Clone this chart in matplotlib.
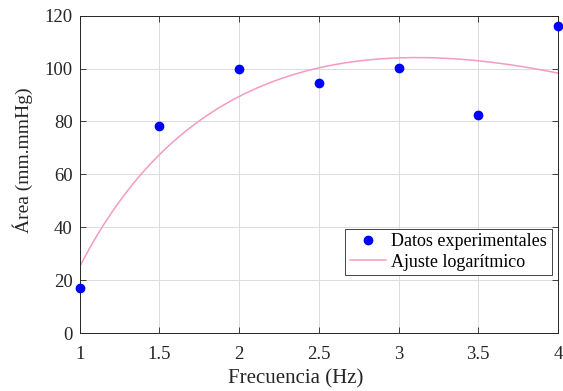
import numpy as np
import matplotlib
matplotlib.use("Agg")
import matplotlib.pyplot as plt

plt.rcParams['font.family'] = ['Liberation Serif', 'DejaVu Serif']
plt.rcParams['mathtext.fontset'] = 'stix'

freq = [1.0, 1.5, 2.0, 2.5, 3.0, 3.5, 4.0]
area = [17.0, 78.3, 100.0, 94.7, 100.4, 82.6, 116.2]

# fitted model: y = a + b*ln(x) + c*x (coefficients)
fit_a, fit_b, fit_c = 80.6, 172.9, -55.5

xticks = [1, 1.5, 2, 2.5, 3, 3.5, 4]
xticklabels = ['1', '1.5', '2', '2.5', '3', '3.5', '4']
yticks = [0, 20, 40, 60, 80, 100, 120]

fig = plt.figure(figsize=(5.63, 3.91), dpi=100)
ax = fig.add_axes([0.1416, 0.1483, 0.8494, 0.8115])

xf = np.linspace(1, 4, 300)
yf = fit_a + fit_b * np.log(xf) + fit_c * xf

ax.plot(freq, area, 'o', color='#0000ff', markersize=6, label='Datos experimentales', zorder=3,
        clip_on=False)
ax.plot(xf, yf, '-', color='#f59ac0', linewidth=1.1, label='Ajuste logarítmico', zorder=2)

ax.set_xlim(1, 4)
ax.set_ylim(0, 120)
ax.set_xticks(xticks)
ax.set_xticklabels(xticklabels)
ax.set_yticks(yticks)
ax.grid(True, color='#dcdcdc', linewidth=0.7)
ax.set_axisbelow(True)
ax.tick_params(direction='in', top=True, right=True, labelsize=13.5, colors='#262626',
               length=4, width=0.6)
ax.tick_params(axis='x', pad=9)
ax.tick_params(axis='y', pad=5)
for s in ax.spines.values():
    s.set_color('#262626')
    s.set_linewidth(0.7)

ax.set_xlabel('Frecuencia (Hz)', fontsize=15, color='#262626')
ax.set_ylabel('Área (mm.mmHg)', fontsize=14, color='#262626')
ax.xaxis.set_label_coords(0.452, -0.113)
ax.yaxis.set_label_coords(-0.098, 0.545)

leg = ax.legend(loc='lower right', bbox_to_anchor=(0.987, 0.182), borderaxespad=0,
                fontsize=13, frameon=True, fancybox=False, edgecolor='#262626',
                framealpha=1, handlelength=2.0, borderpad=0.25, labelspacing=0.2,
                handletextpad=0.3)
leg.get_frame().set_linewidth(0.6)

fig.savefig('out.png', dpi=100)
